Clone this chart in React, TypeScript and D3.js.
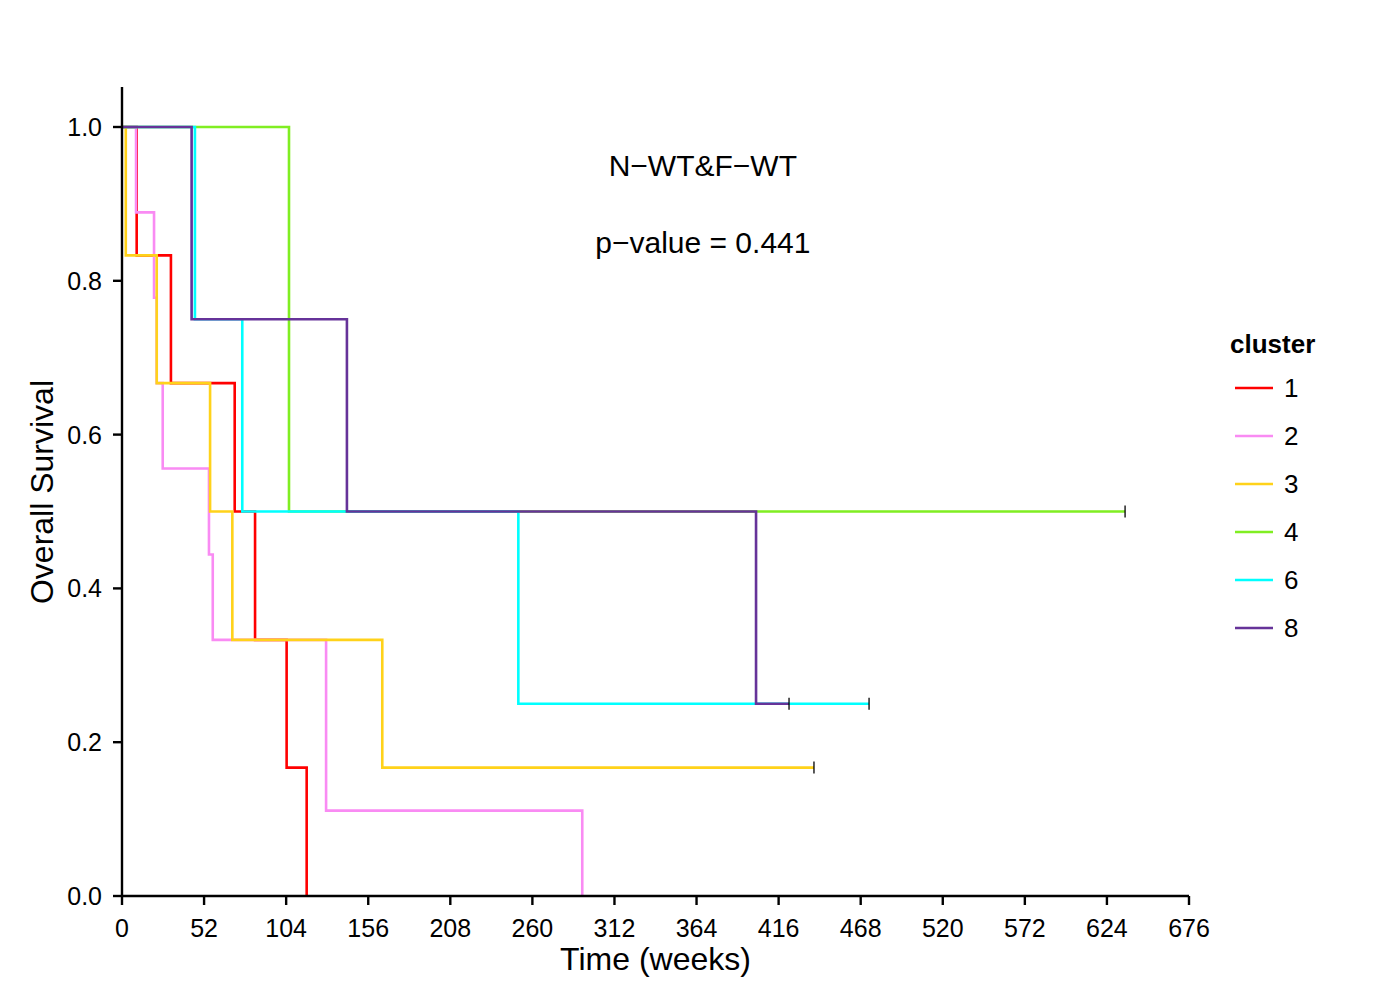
import React from "react";
import * as d3 from "d3";

const clusters = ["1", "2", "3", "4", "6", "8"];
const colors = ["#FF0000", "#F98BF3", "#FFD21A", "#80EE22", "#00FFFF", "#663399"];

// event times (weeks) and survival after each time
const times1 = [0, 9.3, 31, 71.4, 84.3, 104.3, 117];
const surv1 = [1, 0.833, 0.667, 0.5, 0.333, 0.167, 0];
const times2 = [0, 8.9, 20.3, 22, 25.8, 55.1, 57.5, 129.3, 291.6];
const surv2 = [1, 0.889, 0.778, 0.667, 0.556, 0.444, 0.333, 0.111, 0];
const times3 = [0, 2.4, 22, 55.8, 69.9, 164.9, 438.4];
const surv3 = [1, 0.833, 0.667, 0.5, 0.333, 0.167, 0.167];
const times4 = [0, 105.8, 635.5];
const surv4 = [1, 0.5, 0.5];
const times6 = [0, 46.2, 76.2, 251.1, 473.3];
const surv6 = [1, 0.75, 0.5, 0.25, 0.25];
const times8 = [0, 44.1, 142.5, 401.7, 422.6];
const surv8 = [1, 0.75, 0.5, 0.25, 0.25];

const allTimes = [times1, times2, times3, times4, times6, times8];
const allSurv = [surv1, surv2, surv3, surv4, surv6, surv8];
// censored end points (weeks), null = no censor mark
const censorTimes = [null, null, 438.4, 635.5, 473.3, 422.6];

const xTicks = [0, 52, 104, 156, 208, 260, 312, 364, 416, 468, 520, 572, 624, 676];
const yTicks = [0, 0.2, 0.4, 0.6, 0.8, 1.0];

const title = "N\u2212WT&F\u2212WT";
const pText = "p\u2212value = 0.441";

const FONT = "'Liberation Sans', Arial, Helvetica, sans-serif";

export default function App() {
  const W = 1400, H = 1000;
  const x = d3.scaleLinear().domain([0, 676]).range([122, 1189]);
  const y = d3.scaleLinear().domain([0, 1]).range([896, 127]);
  const line = d3
    .line<[number, number]>()
    .x((d) => x(d[0]))
    .y((d) => y(d[1]))
    .curve(d3.curveStepAfter);

  return (
    <svg width={W} height={H} style={{ display: "block", position: "absolute", left: 0, top: 0, background: "#fff" }} fontFamily={FONT}>
      <rect x={0} y={0} width={W} height={H} fill="#fff" />
      {/* curves */}
      {allTimes.map((ts, i) => {
        const pts: [number, number][] = ts.map((t, j) => [t, allSurv[i][j]]);
        return (
          <path key={i} d={line(pts) || ""} fill="none" stroke={colors[i]} strokeWidth={2.6} strokeLinejoin="miter" strokeLinecap="butt" />
        );
      })}
      {censorTimes.map((c, i) =>
        c == null ? null : (
          <line key={"c" + i} x1={x(c)} x2={x(c)} y1={y(allSurv[i][allSurv[i].length - 1]) - 6} y2={y(allSurv[i][allSurv[i].length - 1]) + 6} stroke="#000" strokeWidth={1.3} />
        )
      )}
      {/* axes */}
      <line x1={x(0)} x2={x(0)} y1={y(1.052)} y2={y(0)} stroke="#000" strokeWidth={2.4} />
      <line x1={x(0)} x2={x(676)} y1={y(0)} y2={y(0)} stroke="#000" strokeWidth={2.4} />
      {yTicks.map((t) => (
        <g key={"y" + t}>
          <line x1={x(0) - 9} x2={x(0)} y1={y(t)} y2={y(t)} stroke="#000" strokeWidth={2.4} />
          <text x={x(0) - 20} y={y(t)} dy="0.36em" textAnchor="end" fontSize={25} fill="#000">
            {t.toFixed(1)}
          </text>
        </g>
      ))}
      {xTicks.map((t) => (
        <g key={"x" + t}>
          <line x1={x(t)} x2={x(t)} y1={y(0)} y2={y(0) + 9} stroke="#000" strokeWidth={2.4} />
          <text x={x(t)} y={928} dy="0.36em" textAnchor="middle" fontSize={25} fill="#000">
            {t}
          </text>
        </g>
      ))}
      <text x={(x(0) + x(676)) / 2} y={970} textAnchor="middle" fontSize={32} fill="#000">
        Time (weeks)
      </text>
      <text transform={`translate(53,492) rotate(-90)`} textAnchor="middle" fontSize={32} fill="#000">
        Overall Survival
      </text>
      {/* annotations */}
      <text x={x(368)} y={176} textAnchor="middle" fontSize={30} fill="#000">
        {title}
      </text>
      <text x={x(368)} y={253} textAnchor="middle" fontSize={30} fill="#000">
        {pText}
      </text>
      {/* legend */}
      <text x={1230} y={353} fontSize={26} fontWeight="bold" fill="#000">
        cluster
      </text>
      {clusters.map((c, i) => (
        <g key={"l" + c}>
          <line x1={1235} x2={1273} y1={388 + i * 48} y2={388 + i * 48} stroke={colors[i]} strokeWidth={2.6} />
          <text x={1284} y={388 + i * 48} dy="0.36em" fontSize={26} fill="#000">
            {c}
          </text>
        </g>
      ))}
    </svg>
  );
}
